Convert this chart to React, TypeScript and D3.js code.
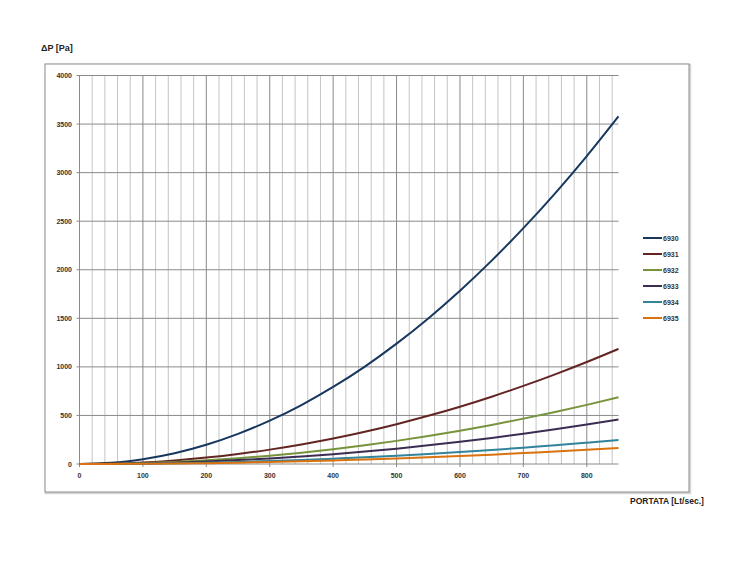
import React from "react";
import * as d3 from "d3";

const flows = [0, 50, 100, 150, 200, 250, 300, 350, 400, 450, 500, 550, 600, 650, 700, 750, 800, 850];
const s6930 = [0, 12, 50, 111, 198, 310, 446, 607, 793, 1003, 1239, 1499, 1784, 2094, 2428, 2787, 3171, 3580];
const s6931 = [0, 4, 16, 37, 66, 103, 148, 201, 262, 332, 410, 496, 590, 693, 804, 923, 1050, 1185];
const s6932 = [0, 2, 10, 21, 38, 60, 86, 117, 152, 193, 238, 288, 343, 402, 467, 536, 609, 688];
const s6933 = [0, 2, 6, 14, 25, 40, 57, 78, 101, 128, 158, 192, 228, 268, 311, 357, 406, 458];
const s6934 = [0, 1, 3, 8, 14, 21, 31, 42, 55, 69, 85, 103, 123, 144, 168, 192, 219, 247];
const s6935 = [0, 1, 2, 5, 9, 14, 21, 28, 37, 46, 57, 69, 82, 96, 112, 128, 146, 165];

const seriesNames = ["6930", "6931", "6932", "6933", "6934", "6935"];
const seriesValues = [s6930, s6931, s6932, s6933, s6934, s6935];
const seriesColors = ["#17375e", "#632523", "#77933c", "#3b2d52", "#31849b", "#d9720f"];

const xTicks = [0, 100, 200, 300, 400, 500, 600, 700, 800];
const yTicks = [0, 500, 1000, 1500, 2000, 2500, 3000, 3500, 4000];
const xMinor = d3.range(0, 841, 20);

const FONT = "'Liberation Sans', Arial, sans-serif";

export default function App() {
  const x = d3.scaleLinear().domain([0, 850]).range([79.5, 618.5]);
  const y = d3.scaleLinear().domain([0, 4000]).range([464, 75.5]);
  const line = d3
    .line<[number, number]>()
    .x((d) => x(d[0]))
    .y((d) => y(d[1]))
    .curve(d3.curveMonotoneX);

  return (
    <svg
      width={750}
      height={565}
      style={{ position: "absolute", left: 0, top: 0, background: "#fff" }}
    >
      <rect x={0} y={0} width={750} height={565} fill="#fff" />
      {/* outer frame with soft shadow */}
      <rect x={46} y={65} width={644} height={428} fill="none" stroke="#d6d6d6" strokeWidth={2.5} />
      <rect x={45} y={64} width={644} height={428} fill="#fff" stroke="#8c8c8c" strokeWidth={1} />

      {/* minor vertical grid */}
      {xMinor.map((v) => (
        <line
          key={"m" + v}
          x1={x(v)}
          x2={x(v)}
          y1={y(4000)}
          y2={y(0)}
          stroke={v % 100 === 0 ? "#8a8a8a" : "#c4c4c4"}
          strokeWidth={1}
        />
      ))}
      {/* horizontal grid */}
      {yTicks.map((v) => (
        <line
          key={"h" + v}
          x1={x(0) - 3}
          x2={x(850)}
          y1={y(v)}
          y2={y(v)}
          stroke="#8a8a8a"
          strokeWidth={1}
        />
      ))}
      {/* x tick marks */}
      {xTicks.map((v) => (
        <line key={"xt" + v} x1={x(v)} x2={x(v)} y1={y(0)} y2={y(0) + 3} stroke="#8a8a8a" />
      ))}

      {/* y tick labels */}
      {yTicks.map((v) => (
        <text
          key={"yl" + v}
          x={72}
          y={y(v) + 2.5}
          textAnchor="end"
          fontFamily={FONT}
          fontSize={7}
          fontWeight="bold"
          fill="#333"
        >
          {v}
        </text>
      ))}
      {/* x tick labels */}
      {xTicks.map((v) => (
        <text
          key={"xl" + v}
          x={x(v)}
          y={478}
          textAnchor="middle"
          fontFamily={FONT}
          fontSize={7}
          fontWeight="bold"
          fill="#333"
        >
          {v}
        </text>
      ))}

      {/* series */}
      {seriesValues.map((vals, i) => (
        <path
          key={seriesNames[i]}
          d={line(flows.map((f, j) => [f, vals[j]] as [number, number])) || ""}
          fill="none"
          stroke={seriesColors[i]}
          strokeWidth={2}
        />
      ))}

      {/* legend */}
      {seriesNames.map((n, i) => (
        <g key={"lg" + n} transform={`translate(643, ${238 + i * 16})`}>
          <line x1={0} x2={19} y1={0} y2={0} stroke={seriesColors[i]} strokeWidth={2} />
          <text x={20} y={2.5} fontFamily={FONT} fontSize={7} fontWeight="bold" fill="#333">
            {n}
          </text>
        </g>
      ))}

      {/* axis titles */}
      <text x={41} y={51} fontFamily={FONT} fontSize={9} fontWeight="bold" fill="#222">
        ΔP [Pa]
      </text>
      <text x={630} y={504} fontFamily={FONT} fontSize={8.5} fontWeight="bold" fill="#222">
        PORTATA [Lt/sec.]
      </text>
    </svg>
  );
}
